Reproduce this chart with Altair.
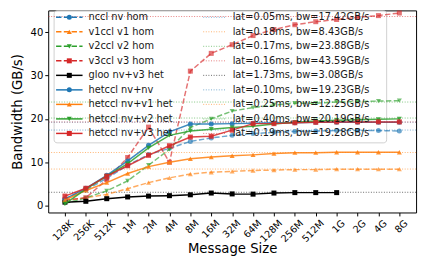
import altair as alt
import pandas as pd

sizes = ["128K", "256K", "512K", "1M", "2M", "4M", "8M", "16M", "32M", "64M",
         "128M", "256M", "512M", "1G", "2G", "4G", "8G"]

nccl_nv_hom = [1.6, 3.6, 6.3, 9.3, 11.8, 13.2, 14.8, 15.6, 16.2, 16.6, 16.9, 17.1, 17.2, 17.3, 17.3, 17.3, 17.2]
v1ccl_v1_hom = [1.2, 1.8, 2.6, 3.9, 5.3, 6.4, 7.3, 7.7, 7.9, 8.1, 8.2, 8.3, 8.3, 8.4, 8.4, 8.4, 8.4]
v2ccl_v2_hom = [0.5, 1.8, 3.4, 5.7, 9.3, 13.0, 18.0, 20.0, 21.8, 22.6, 23.2, 23.6, 23.6, 23.9, 24.0, 24.1, 24.2]
v3ccl_v3_hom = [1.3, 1.8, 6.0, 11.1, 18.1, 10.0, 31.0, 35.1, 37.1, 39.2, 40.6, 41.7, 42.4, 42.9, 43.4, 43.8, 44.4]
gloo_nv_v3_het = [0.8, 1.0, 1.6, 2.0, 2.2, 2.3, 2.5, 2.9, 2.7, 2.65, 2.9, 3.0, 3.0, 3.0]
hetccl_nv_nv = [1.5, 4.0, 7.0, 10.3, 13.9, 17.0, 18.8, 18.8, 18.9, 19.0, 19.1, 19.1, 19.2, 19.2, 19.2, 19.2, 19.2]
hetccl_nv_v1 = [1.3, 3.5, 5.3, 7.4, 9.0, 10.0, 10.8, 11.2, 11.5, 11.7, 12.0, 12.2, 12.2, 12.3, 12.3, 12.3, 12.3]
hetccl_nv_v2 = [0.4, 3.8, 6.8, 9.7, 13.3, 16.2, 17.2, 17.6, 18.0, 18.3, 18.8, 19.2, 19.5, 19.7, 19.8, 19.9, 20.0]
hetccl_nv_v3 = [2.2, 4.0, 6.8, 9.2, 11.6, 13.8, 15.8, 16.0, 17.4, 18.9, 18.9, 19.1, 19.2, 19.3, 19.3, 19.3, 19.3]

series_labels = ["nccl nv hom", "v1ccl v1 hom", "v2ccl v2 hom", "v3ccl v3 hom", "gloo nv+v3 het",
                 "hetccl nv+nv", "hetccl nv+v1 het", "hetccl nv+v2 het", "hetccl nv+v3 het"]
series_values = [nccl_nv_hom, v1ccl_v1_hom, v2ccl_v2_hom, v3ccl_v3_hom, gloo_nv_v3_het,
                 hetccl_nv_nv, hetccl_nv_v1, hetccl_nv_v2, hetccl_nv_v3]
series_colors = ["#1f77b4", "#ff7f0e", "#2ca02c", "#d62728", "#000000",
                 "#1f77b4", "#ff7f0e", "#2ca02c", "#d62728"]
series_shapes = ["circle", "triangle-up", "triangle-down", "square", "square",
                 "circle", "triangle-up", "triangle-down", "square"]
series_dashed = [True, True, True, True, False, False, False, False, False]

fit_latency = ["0.05", "0.18", "0.17", "0.16", "1.73", "0.10", "0.25", "0.40", "0.19"]
fit_bw = [17.42, 8.43, 23.88, 43.59, 3.08, 19.23, 12.25, 20.19, 19.28]

FONT = "DejaVu Sans"
W, H = 375, 206
ydom = [-1.58, 45.0]

xenc = alt.X("size:O", sort=sizes,
             scale=alt.Scale(type="point", padding=0.8, domain=sizes),
             axis=alt.Axis(title="Message Size", labelAngle=315, labelAlign="right",
                           labelBaseline="top", titlePadding=-2, labelFontSize=9.8,
                           labelOffset=3))
yenc = alt.Y("bw:Q", scale=alt.Scale(domain=ydom, nice=False, zero=False),
             axis=alt.Axis(title="Bandwidth (GB/s)", values=[0, 10, 20, 30, 40], titlePadding=6))

layers = []

# legend frame (behind lines)
layers.append(alt.Chart(pd.DataFrame({"a": [0]})).mark_rect(
    fill="white", fillOpacity=0.8, stroke="#d0d0d0", strokeWidth=1, cornerRadius=3
).encode(x=alt.value(6), x2=alt.value(345), y=alt.value(0.5), y2=alt.value(135)))

# fitted bandwidth reference lines
for lat, bw, col in zip(fit_latency, fit_bw, series_colors):
    layers.append(alt.Chart(pd.DataFrame({"bw": [bw]})).mark_rule(
        color=col, strokeDash=[1, 1.65], strokeWidth=1, opacity=0.6
    ).encode(y=yenc))

# data series
for lab, vals, col, shp, dashed in zip(series_labels, series_values, series_colors,
                                       series_shapes, series_dashed):
    df = pd.DataFrame({"size": sizes[:len(vals)], "bw": vals, "series": lab})
    op = 0.65 if dashed else (1.0 if col == "#000000" else 0.85)
    line_kw = dict(color=col, strokeWidth=1.5, opacity=op)
    if dashed:
        line_kw["strokeDash"] = [5.5, 2.4]
    base = alt.Chart(df)
    layers.append(base.mark_line(**line_kw).encode(x=xenc, y=yenc))
    layers.append(base.mark_point(shape=shp, filled=True, size=26, color=col, opacity=op)
                  .encode(x=xenc, y=yenc))

# legend entries
row0, rowstep = 7.0, 14.8
for i, (lab, col, shp, dashed) in enumerate(zip(series_labels, series_colors,
                                                 series_shapes, series_dashed)):
    yc = row0 + rowstep * i
    one = pd.DataFrame({"a": [0]})
    rk = dict(color=col, strokeWidth=1.5)
    if dashed:
        rk["strokeDash"] = [5.5, 2.4]
    layers.append(alt.Chart(one).mark_rule(**rk).encode(
        x=alt.value(8), x2=alt.value(35), y=alt.value(yc)))
    layers.append(alt.Chart(one).mark_point(shape=shp, filled=True, size=26, color=col, opacity=1)
                  .encode(x=alt.value(21.5), y=alt.value(yc)))
    layers.append(alt.Chart(pd.DataFrame({"t": [lab]})).mark_text(
        align="left", baseline="middle", font=FONT, fontSize=10, color="#1a1a1a"
    ).encode(x=alt.value(41), y=alt.value(yc), text="t:N"))

for i, (lat, bw, col) in enumerate(zip(fit_latency, fit_bw, series_colors)):
    yc = row0 + rowstep * i
    one = pd.DataFrame({"a": [0]})
    layers.append(alt.Chart(one).mark_rule(color=col, strokeDash=[1, 1.65], strokeWidth=1,
                                           opacity=0.6).encode(
        x=alt.value(158), x2=alt.value(181), y=alt.value(yc)))
    txt = f"lat={lat}ms, bw={bw:.2f}GB/s"
    layers.append(alt.Chart(pd.DataFrame({"t": [txt]})).mark_text(
        align="left", baseline="middle", font=FONT, fontSize=10, color="#1a1a1a"
    ).encode(x=alt.value(188), y=alt.value(yc), text="t:N"))

chart = alt.layer(*layers).properties(
    width=W, height=H,
    autosize=alt.AutoSizeParams(type="none"),
    padding={"left": 41, "top": 0, "right": 4, "bottom": 47},
).configure_view(stroke="black", strokeWidth=1).configure_axis(
    grid=False, domain=False, ticks=True, tickColor="black", tickSize=3.5,
    labelFont=FONT, labelFontSize=10.2, labelColor="black", labelPadding=2,
    titleFont=FONT, titleFontSize=13.5, titleFontWeight="normal", titleColor="black",
)

chart.save("out.html", embed_options={"renderer": "svg", "actions": False})
